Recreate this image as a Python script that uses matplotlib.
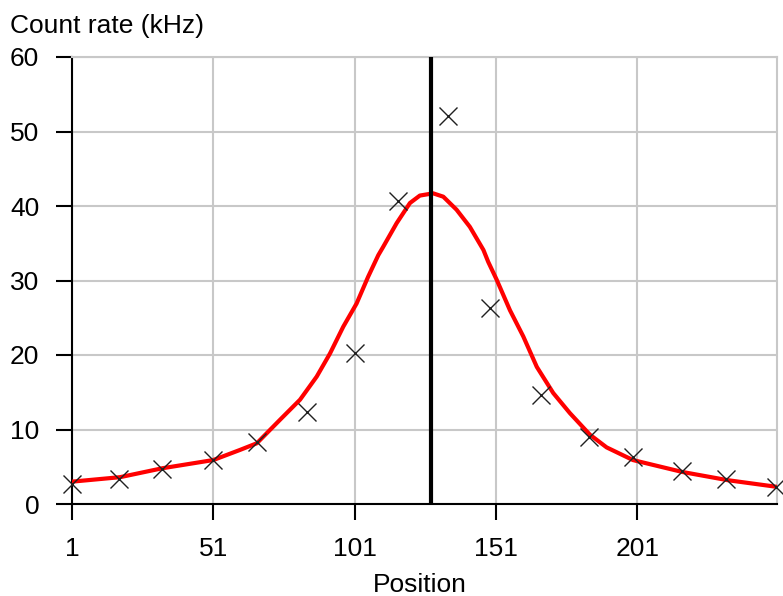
import matplotlib
matplotlib.use("Agg")
import matplotlib.pyplot as plt

plt.rcParams['font.family'] = ['Liberation Sans', 'DejaVu Sans']

# Measured points (X markers)
pos = [1, 17.6, 33, 51, 66.5, 84, 101, 116.5, 134, 149, 167, 184, 199.5, 217, 232.5, 250]
rate = [2.7, 3.4, 4.7, 5.9, 8.3, 12.3, 20.3, 40.7, 52.1, 26.3, 14.6, 9.0, 6.3, 4.4, 3.4, 2.3]

# Fitted curve
fit_x = [1, 18, 33, 51, 60.4, 66.4, 74.6, 81.7, 87.6, 92.3, 97.0, 101.7, 105.8, 109.4,
         111.1, 115.9, 120.6, 124.1, 128.8, 132.4, 137.1, 141.8, 146.6, 148.3, 151.3,
         156.0, 160.7, 165.5, 171.3, 177.2, 184.3, 190.2, 199.5, 217, 233, 250.5]
fit_y = [3.0, 3.6, 4.8, 5.9, 7.25, 8.15, 11.3, 14.0, 17.1, 20.2, 23.8, 26.9, 30.5, 33.4,
         34.5, 37.7, 40.4, 41.4, 41.7, 41.25, 39.5, 37.2, 34.1, 32.5, 30.1,
         26.0, 22.5, 18.4, 14.9, 12.2, 9.3, 7.6, 5.9, 4.3, 3.2, 2.3]

centre = 128
xticks = [1, 51, 101, 151, 201]
yticks = [0, 10, 20, 30, 40, 50, 60]

W, H = 783, 596
fig = plt.figure(figsize=(W / 100, H / 100), dpi=100)
L, R, T, B = 72, 777, 57, 504
ax = fig.add_axes([L / W, 1 - B / H, (R - L) / W, (B - T) / H])

ax.set_xlim(1, 250.5)
ax.set_ylim(0, 60)
ax.set_xticks(xticks)
ax.set_yticks(yticks)
ax.grid(True, which='major', color='#c8c8c8', linewidth=1.5)
ax.set_axisbelow(True)

for s in ['top', 'right']:
    ax.spines[s].set_color('#c8c8c8')
    ax.spines[s].set_linewidth(1.5)
for s in ['left', 'bottom']:
    ax.spines[s].set_color('black')
    ax.spines[s].set_linewidth(1.5)
ax.tick_params(which='major', direction='out', length=11.5, width=1.5, pad=12,
               labelsize=19, colors='black')

ax.plot(fit_x, fit_y, color='red', linewidth=3, zorder=3,
        solid_joinstyle='round', solid_capstyle='round')
ax.axvline(centre, color='black', linewidth=3, zorder=4)
ax.plot(pos, rate, linestyle='none', marker='x', markersize=13, markeredgewidth=1,
        color='#202020', zorder=5, clip_on=False)

fig.text(10 / W, 1 - 33 / H, 'Count rate (kHz)', fontsize=19, va='baseline', ha='left')
fig.text(420 / W, 1 - 592 / H, 'Position', fontsize=19, va='baseline', ha='center')

fig.savefig('out.png', dpi=100)
